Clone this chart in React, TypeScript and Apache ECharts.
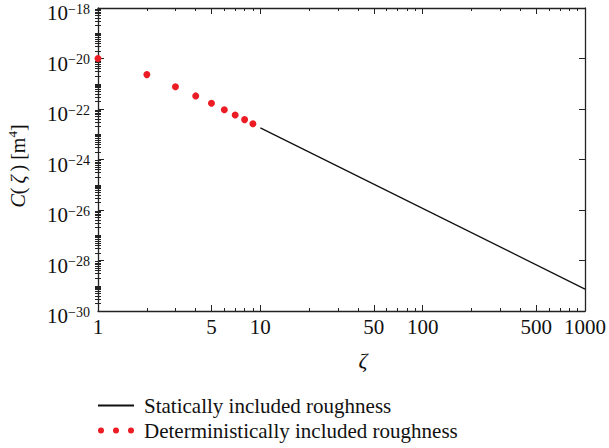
import React, { useEffect, useRef } from "react";
import * as echarts from "echarts";

// Deterministically included roughness (dots)
const zetaDet = [1, 2, 3, 4, 5, 6, 7, 8, 9];
const cDet = [1.0e-20, 2.3e-21, 7.6e-22, 3.3e-22, 1.7e-22, 9.3e-23, 5.8e-23, 3.8e-23, 2.6e-23];
// Statically included roughness (line)
const zetaStat = [10, 1000];
const cStat = [1.8e-23, 7.4e-30];

// tick labels
const xMajorTicks = [1, 5, 10, 50, 100, 500, 1000];
const yMajorExps = [-30, -28, -26, -24, -22, -20, -18];

const legendNames = ["Statically included roughness", "Deterministically included roughness"];

const FONT = "Liberation Serif";
const lg = (v: number) => Math.log10(v);

const xMinorTicks: number[] = [];
[1, 10, 100].forEach((d) => {
  for (let k = 2; k <= 9; k++) if (k !== 5) xMinorTicks.push(k * d);
});
const yMinorVals: number[] = [];
for (let e = -30; e < -18; e++) {
  for (let k = 1; k <= 9; k++) {
    if (k === 1 && e % 2 === 0) continue;
    yMinorVals.push(e + lg(k));
  }
}

export default function App() {
  const ref = useRef<HTMLDivElement>(null);
  useEffect(() => {
    if (!ref.current) return;
    const chart = echarts.init(ref.current, undefined, { renderer: "svg" });
    const axisLine = { show: true, onZero: false, lineStyle: { color: "#222", width: 1.3 } };
    const xBase = (pos: string, major: boolean, labels: boolean) => ({
      type: "value",
      position: pos,
      min: 0,
      max: 3,
      axisLine: major ? axisLine : { show: false },
      splitLine: { show: false },
      axisTick: {
        show: true,
        inside: true,
        length: major ? 6 : 3,
        lineStyle: { color: "#222", width: 1 },
        customValues: major ? xMajorTicks.map(lg) : xMinorTicks.map(lg),
      },
      axisLabel: labels
        ? {
            show: true,
            customValues: xMajorTicks.map(lg),
            formatter: (v: number) => String(Math.round(Math.pow(10, v))),
            fontFamily: FONT,
            fontSize: 21,
            color: "#111",
            margin: 5,
          }
        : { show: false },
    });
    const yBase = (pos: string, major: boolean, labels: boolean) => ({
      type: "value",
      position: pos,
      min: -30,
      max: -18,
      axisLine: major ? axisLine : { show: false },
      splitLine: { show: false },
      axisTick: {
        show: true,
        inside: true,
        length: major ? 6 : 3,
        lineStyle: { color: "#222", width: 1 },
        customValues: major ? yMajorExps : yMinorVals,
      },
      axisLabel: labels
        ? {
            show: true,
            customValues: yMajorExps,
            formatter: (v: number) => `{b|10}{s|\u2212${Math.abs(Math.round(v))}}`,
            margin: 8,
            padding: [10, 0, 0, 0],
            color: "#111",
            rich: {
              b: { fontFamily: FONT, fontSize: 21, lineHeight: 22, color: "#111" },
              s: { fontFamily: FONT, fontSize: 14, lineHeight: 13, verticalAlign: "top", color: "#111" },
            },
          }
        : { show: false },
    });

    const dotIcon =
      "path://M0,3a3,3 0 1,0 6,0a3,3 0 1,0 -6,0Z M15,3a3,3 0 1,0 6,0a3,3 0 1,0 -6,0Z M30,3a3,3 0 1,0 6,0a3,3 0 1,0 -6,0Z";

    chart.setOption({
      animation: false,
      backgroundColor: "#fff",
      grid: { left: 98, right: 20, top: 8, bottom: 137, containLabel: false },
      xAxis: [
        xBase("bottom", true, true),
        xBase("bottom", false, false),
        xBase("top", true, false),
        xBase("top", false, false),
      ],
      yAxis: [
        yBase("left", true, true),
        yBase("left", false, false),
        yBase("right", true, false),
        yBase("right", false, false),
      ],
      legend: {
        orient: "vertical",
        left: 97,
        top: 395,
        padding: 0,
        itemGap: 4,
        itemWidth: 36,
        itemHeight: 6,
        selectedMode: false,
        textStyle: { fontFamily: FONT, fontSize: 21, color: "#111", padding: [0, 0, 0, 5] },
        data: [
          { name: legendNames[0], itemStyle: { opacity: 0 } },
          { name: legendNames[1], icon: dotIcon },
        ],
      },
      graphic: [
        {
          type: "text",
          x: 363,
          y: 360,
          style: {
            text: "\u03b6",
            fontFamily: FONT,
            fontStyle: "italic",
            fontSize: 22,
            fill: "#111",
            align: "center",
            verticalAlign: "middle",
          },
        },
        {
          type: "text",
          x: 18,
          y: 166,
          rotation: Math.PI / 2,
          style: {
            text: "{i|C}(\u2009{i|\u03b6}\u2009) [m{s|4}]",
            fontFamily: FONT,
            fontSize: 20,
            lineHeight: 24,
            fill: "#111",
            align: "center",
            verticalAlign: "middle",
            rich: {
              i: { fontFamily: FONT, fontStyle: "italic", fontSize: 20, lineHeight: 24, fill: "#111" },
              s: { fontFamily: FONT, fontSize: 13, lineHeight: 13, verticalAlign: "top", fill: "#111" },
            },
          },
        },
      ],
      series: [
        {
          name: legendNames[0],
          type: "line",
          xAxisIndex: 0,
          yAxisIndex: 0,
          symbol: "none",
          showSymbol: false,
          lineStyle: { color: "#111", width: 1.3 },
          itemStyle: { color: "#111" },
          data: zetaStat.map((z, i) => [lg(z), lg(cStat[i])]),
        },
        {
          name: legendNames[1],
          type: "scatter",
          xAxisIndex: 0,
          yAxisIndex: 0,
          symbol: "circle",
          symbolSize: 7,
          clip: false,
          itemStyle: { color: "#ec1c24", opacity: 1 },
          data: zetaDet.map((z, i) => [lg(z), lg(cDet[i])]),
        },
      ],
    });
    return () => chart.dispose();
  }, []);
  return <div ref={ref} style={{ width: 609, height: 448, position: "absolute", left: 0, top: 0 }} />;
}
